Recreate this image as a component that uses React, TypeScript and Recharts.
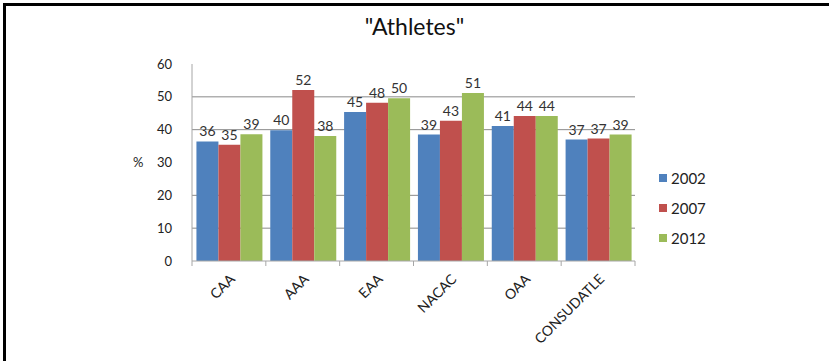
import { BarChart, Bar, XAxis, YAxis, CartesianGrid, Legend, LabelList } from 'recharts';

// "Athletes" — share (%) by continental association, 2002 / 2007 / 2012

const categories = ['CAA', 'AAA', 'EAA', 'NACAC', 'OAA', 'CONSUDATLE'];
const y2002 = [36.4, 39.8, 45.4, 38.5, 41.1, 37.0];
const y2007 = [35.4, 52.1, 48.2, 42.7, 44.2, 37.3];
const y2012 = [38.6, 38.1, 49.6, 51.2, 44.2, 38.5];
const yTicks = [0, 10, 20, 30, 40, 50, 60];
const gridValues = [10, 20, 40, 50];

const series = [
  { key: 'y2002', name: '2002', color: '#4F81BD' },
  { key: 'y2007', name: '2007', color: '#C0504D' },
  { key: 'y2012', name: '2012', color: '#9BBB59' },
];

const data = categories.map((name, i) => ({
  name,
  y2002: y2002[i],
  y2007: y2007[i],
  y2012: y2012[i],
}));

const FONT = 'Lato, "Open Sans", sans-serif';
const TICK_MARGIN = 12;
const AXIS_GRAY = '#a6a6a6';

// rotated category label + small tick marks on the category boundaries
function CategoryTick({ x, y, payload, index }: any) {
  const half = payload?.offset ?? 0;
  const y0 = y - TICK_MARGIN;
  return (
    <g>
      <line x1={x - half} x2={x - half} y1={y0} y2={y0 + 5} stroke={AXIS_GRAY} />
      {index === categories.length - 1 && (
        <line x1={x + half} x2={x + half} y1={y0} y2={y0 + 5} stroke={AXIS_GRAY} />
      )}
      <text
        x={x}
        y={y}
        dy="0.71em"
        textAnchor="end"
        transform={`rotate(-45, ${x}, ${y})`}
        fill="#222"
        fontSize={14}
      >
        {payload.value}
      </text>
    </g>
  );
}

function LegendBox({ payload }: any) {
  return (
    <div style={{ fontFamily: FONT, fontSize: 15, color: '#222' }}>
      {(payload || []).map((p: any) => (
        <div key={p.value} style={{ display: 'flex', alignItems: 'center', height: 30 }}>
          <span style={{ width: 8, height: 8, background: p.color, marginRight: 4 }} />
          <span>{p.value}</span>
        </div>
      ))}
    </div>
  );
}

export default function App() {
  return (
    <div style={{ position: 'absolute', left: 0, top: 0, width: 829, height: 361, background: '#fff' }}>
      <div
        style={{
          position: 'absolute',
          left: 3,
          top: 3,
          right: 0,
          bottom: 0,
          borderTop: '3px solid #000',
          borderLeft: '3px solid #000',
        }}
      />
      <div
        style={{
          position: 'absolute',
          left: 0,
          width: 829,
          top: 12,
          textAlign: 'center',
          fontFamily: FONT,
          fontSize: 23,
          color: '#111',
        }}
      >
        "Athletes"
      </div>
      <BarChart
        width={829}
        height={361}
        data={data}
        margin={{ top: 64, right: 194, bottom: 0, left: 120 }}
        barCategoryGap="6%"
        barGap={0}
        style={{ fontFamily: FONT }}
      >
        <CartesianGrid vertical={false} horizontalValues={gridValues} stroke="#8a8a8a" />
        <XAxis
          dataKey="name"
          interval={0}
          height={100}
          stroke={AXIS_GRAY}
          tickLine={false}
          tickSize={0}
          tickMargin={TICK_MARGIN}
          tick={<CategoryTick />}
        />
        <YAxis
          domain={[0, 60]}
          ticks={yTicks}
          width={72}
          tickLine={false}
          tickSize={0}
          tickMargin={20}
          stroke={AXIS_GRAY}
          tick={{ fill: '#222', fontSize: 13 }}
          label={{ value: '%', position: 'insideLeft', angle: 0, offset: 13, fill: '#222', fontSize: 13 }}
        />
        <Legend
          layout="horizontal"
          align="center"
          verticalAlign="middle"
          content={<LegendBox />}
          wrapperStyle={{ left: 659, top: 163, width: 80 }}
        />
        {series.map((s) => (
          <Bar key={s.key} dataKey={s.key} name={s.name} fill={s.color} isAnimationActive={false}>
            <LabelList
              dataKey={s.key}
              position="top"
              offset={5}
              fill="#333"
              fontSize={14}
              formatter={(v: any) => Math.round(Number(v))}
            />
          </Bar>
        ))}
      </BarChart>
    </div>
  );
}
